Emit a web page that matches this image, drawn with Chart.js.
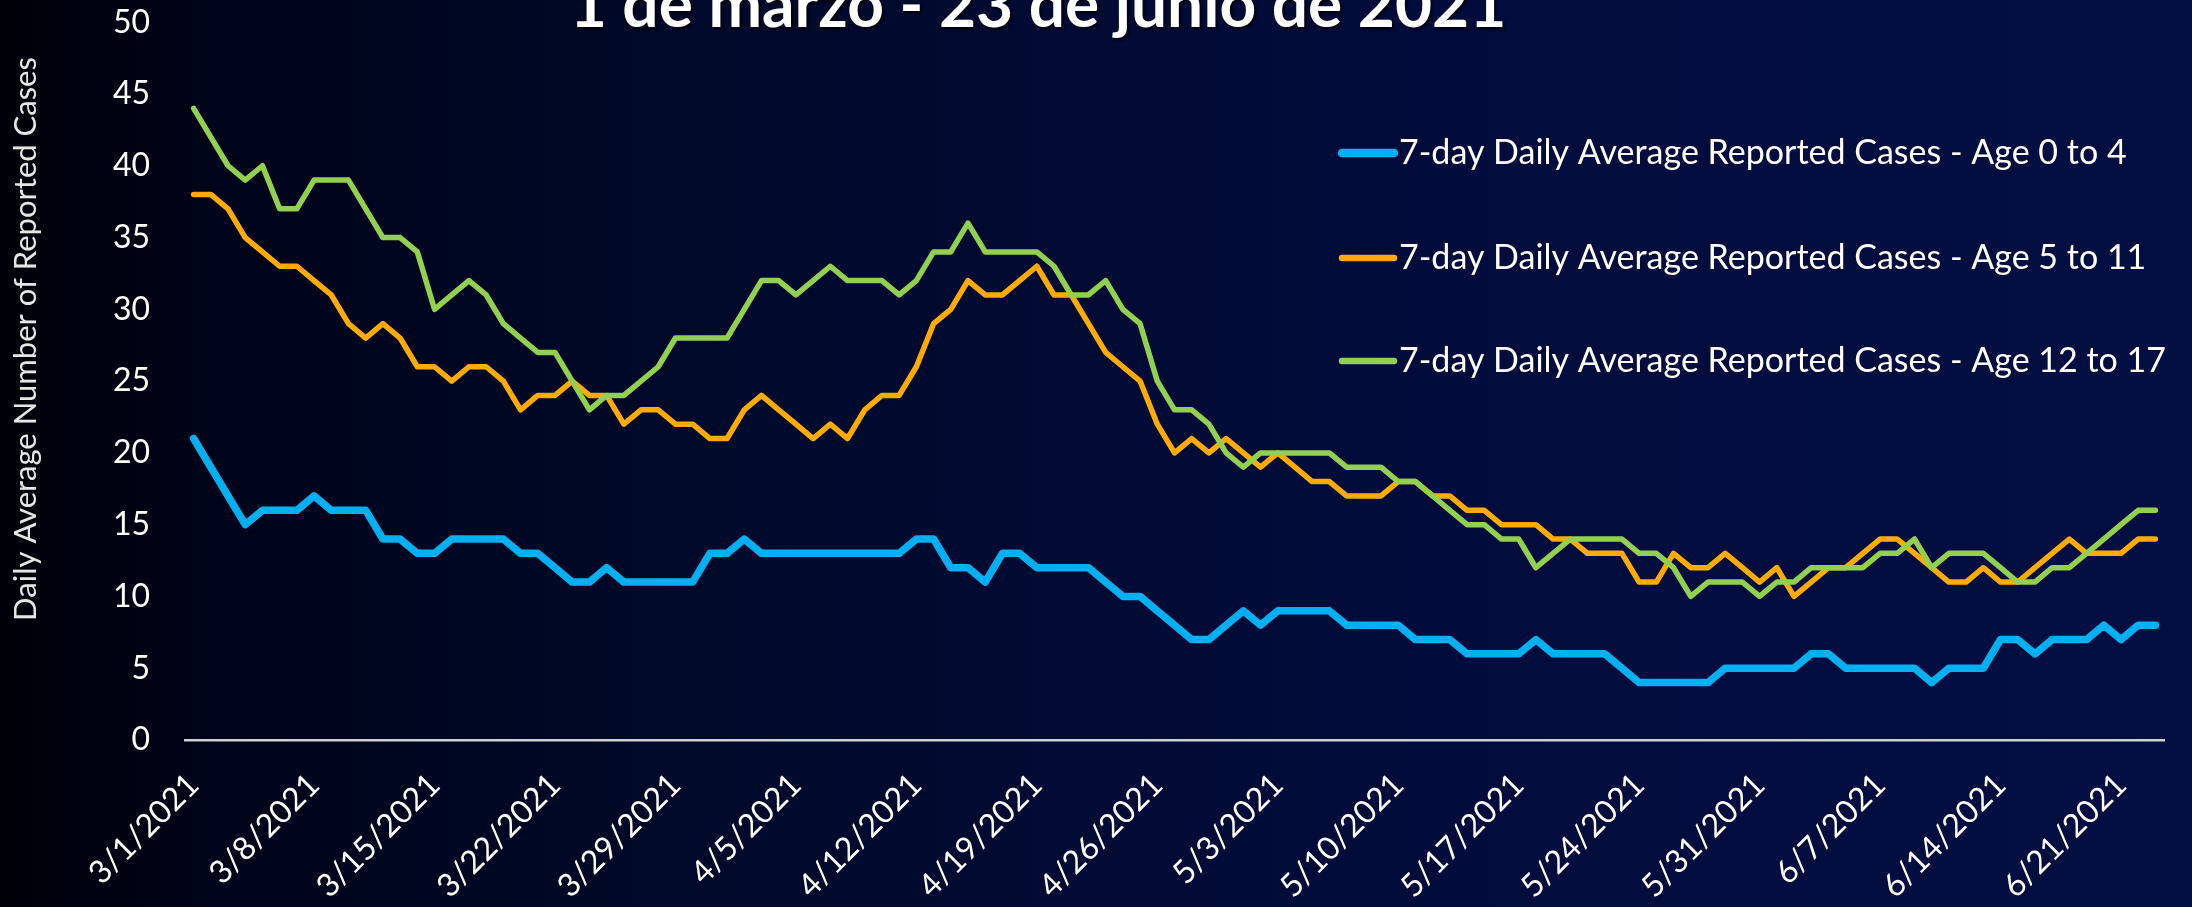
<!DOCTYPE html>
<html>
<head>
<meta charset="utf-8">
<script src="https://cdn.jsdelivr.net/npm/chart.js@4.4.1/dist/chart.umd.min.js"></script>
<style>
  html, body { margin: 0; padding: 0; overflow: hidden; }
  body {
    width: 2192px; height: 907px;
    background: linear-gradient(to right, #000008 0%, #00041a 10%, #000a2c 35%, #020c3c 65%, #030e42 100%);
  }
  #wrap { position: relative; width: 2192px; height: 907px; }
</style>
</head>
<body>
<div id="wrap"><canvas id="chart"></canvas></div>
<script>
const dates = [
  "3/1/2021","3/2/2021","3/3/2021","3/4/2021","3/5/2021","3/6/2021","3/7/2021","3/8/2021","3/9/2021","3/10/2021",
  "3/11/2021","3/12/2021","3/13/2021","3/14/2021","3/15/2021","3/16/2021","3/17/2021","3/18/2021","3/19/2021","3/20/2021",
  "3/21/2021","3/22/2021","3/23/2021","3/24/2021","3/25/2021","3/26/2021","3/27/2021","3/28/2021","3/29/2021","3/30/2021",
  "3/31/2021","4/1/2021","4/2/2021","4/3/2021","4/4/2021","4/5/2021","4/6/2021","4/7/2021","4/8/2021","4/9/2021",
  "4/10/2021","4/11/2021","4/12/2021","4/13/2021","4/14/2021","4/15/2021","4/16/2021","4/17/2021","4/18/2021","4/19/2021",
  "4/20/2021","4/21/2021","4/22/2021","4/23/2021","4/24/2021","4/25/2021","4/26/2021","4/27/2021","4/28/2021","4/29/2021",
  "4/30/2021","5/1/2021","5/2/2021","5/3/2021","5/4/2021","5/5/2021","5/6/2021","5/7/2021","5/8/2021","5/9/2021",
  "5/10/2021","5/11/2021","5/12/2021","5/13/2021","5/14/2021","5/15/2021","5/16/2021","5/17/2021","5/18/2021","5/19/2021",
  "5/20/2021","5/21/2021","5/22/2021","5/23/2021","5/24/2021","5/25/2021","5/26/2021","5/27/2021","5/28/2021","5/29/2021",
  "5/30/2021","5/31/2021","6/1/2021","6/2/2021","6/3/2021","6/4/2021","6/5/2021","6/6/2021","6/7/2021","6/8/2021",
  "6/9/2021","6/10/2021","6/11/2021","6/12/2021","6/13/2021","6/14/2021","6/15/2021","6/16/2021","6/17/2021","6/18/2021",
  "6/19/2021","6/20/2021","6/21/2021","6/22/2021","6/23/2021"
];

const shownTicks = [
  "3/1/2021","3/8/2021","3/15/2021","3/22/2021","3/29/2021","4/5/2021","4/12/2021","4/19/2021","4/26/2021",
  "5/3/2021","5/10/2021","5/17/2021","5/24/2021","5/31/2021","6/7/2021","6/14/2021","6/21/2021"
];

const age0to4 = [
  21,19,17,15,16,16,16,17,16,16,
  16,14,14,13,13,14,14,14,14,13,
  13,12,11,11,12,11,11,11,11,11,
  13,13,14,13,13,13,13,13,13,13,
  13,13,14,14,12,12,11,13,13,12,
  12,12,12,11,10,10,9,8,7,7,
  8,9,8,9,9,9,9,8,8,8,
  8,7,7,7,6,6,6,6,7,6,
  6,6,6,5,4,4,4,4,4,5,
  5,5,5,5,6,6,5,5,5,5,
  5,4,5,5,5,7,7,6,7,7,
  7,8,7,8,8
];

const age5to11 = [
  38,38,37,35,34,33,33,32,31,29,
  28,29,28,26,26,25,26,26,25,23,
  24,24,25,24,24,22,23,23,22,22,
  21,21,23,24,23,22,21,22,21,23,
  24,24,26,29,30,32,31,31,32,33,
  31,31,29,27,26,25,22,20,21,20,
  21,20,19,20,19,18,18,17,17,17,
  18,18,17,17,16,16,15,15,15,14,
  14,13,13,13,11,11,13,12,12,13,
  12,11,12,10,11,12,12,13,14,14,
  13,12,11,11,12,11,11,12,13,14,
  13,13,13,14,14
];

const age12to17 = [
  44,42,40,39,40,37,37,39,39,39,
  37,35,35,34,30,31,32,31,29,28,
  27,27,25,23,24,24,25,26,28,28,
  28,28,30,32,32,31,32,33,32,32,
  32,31,32,34,34,36,34,34,34,34,
  33,31,31,32,30,29,25,23,23,22,
  20,19,20,20,20,20,20,19,19,19,
  18,18,17,16,15,15,14,14,12,13,
  14,14,14,14,13,13,12,10,11,11,
  11,10,11,11,12,12,12,12,13,13,
  14,12,13,13,13,12,11,11,12,12,
  13,14,15,16,16
];

const seriesNames = [
  "7-day Daily Average Reported Cases - Age 0 to 4",
  "7-day Daily Average Reported Cases - Age 5 to 11",
  "7-day Daily Average Reported Cases - Age 12 to 17"
];

const titleText = "1 de marzo - 23 de junio de 2021";
const yTitleText = "Daily Average Number of Reported Cases";

const FONT = "Lato, 'Open Sans', sans-serif";

// title, y axis title and legend drawn on the canvas
const decorations = {
  id: "decorations",
  afterDatasetsDraw(chart) {
    const ctx = chart.ctx;
    ctx.save();

    // title (partly cut off at the top, like the slide)
    ctx.font = "bold 64px " + FONT;
    ctx.fillStyle = "#ffffff";
    ctx.textAlign = "center";
    ctx.textBaseline = "alphabetic";
    ctx.shadowColor = "rgba(0,0,0,0.8)";
    ctx.shadowOffsetX = 2;
    ctx.shadowOffsetY = 2;
    ctx.shadowBlur = 3;
    ctx.fillText(titleText, 1038, 27);
    ctx.shadowColor = "transparent";

    // y axis title
    ctx.save();
    ctx.translate(26, 339);
    ctx.rotate(-Math.PI / 2);
    ctx.font = "31px " + FONT;
    ctx.fillStyle = "#e6e6e6";
    ctx.textAlign = "center";
    ctx.textBaseline = "middle";
    ctx.fillText(yTitleText, 0, 0);
    ctx.restore();

    // legend
    const rows = [153, 258, 361];
    chart.data.datasets.forEach((ds, i) => {
      const y = rows[i];
      ctx.strokeStyle = ds.borderColor;
      ctx.lineWidth = ds.borderWidth + 1;
      ctx.lineCap = "round";
      ctx.beginPath();
      ctx.moveTo(1342, y);
      ctx.lineTo(1394, y);
      ctx.stroke();
      ctx.font = "34px " + FONT;
      ctx.fillStyle = "#ffffff";
      ctx.textAlign = "left";
      ctx.textBaseline = "middle";
      ctx.fillText(ds.label, 1399, y);
    });

    ctx.restore();
  }
};

new Chart(document.getElementById("chart"), {
  type: "line",
  data: {
    labels: dates,
    datasets: [
      { label: seriesNames[0], data: age0to4, borderColor: "#00B0F0", borderWidth: 7.5, order: 2 },
      { label: seriesNames[1], data: age5to11, borderColor: "#FFAB00", borderWidth: 5.5, order: 1 },
      { label: seriesNames[2], data: age12to17, borderColor: "#92D050", borderWidth: 5.5, order: 0 }
    ]
  },
  options: {
    responsive: true,
    maintainAspectRatio: false,
    devicePixelRatio: 1,
    animation: false,
    elements: {
      point: { radius: 0, hoverRadius: 0 },
      line: { tension: 0, borderJoinStyle: "round", borderCapStyle: "round" }
    },
    layout: { padding: { top: 0, right: 28, left: 0, bottom: 0 } },
    plugins: {
      legend: { display: false },
      tooltip: { enabled: false },
      title: { display: false }
    },
    scales: {
      x: {
        offset: true,
        grid: { display: false, drawTicks: false },
        border: { display: true, color: "#d0d0d0", width: 2.5 },
        ticks: {
          color: "#ffffff",
          font: { family: FONT, size: 32 },
          autoSkip: false,
          minRotation: 45,
          maxRotation: 45,
          padding: 26,
          callback: function (value) {
            const label = this.getLabelForValue(value);
            return shownTicks.includes(label) ? label : null;
          }
        },
        afterFit(scale) { scale.height = 167; }
      },
      y: {
        min: 0,
        max: 50,
        // tick length (not drawn, grid hidden) gives the gap to the labels
        grid: { display: false, drawTicks: true, tickLength: 32 },
        border: { display: false },
        ticks: {
          stepSize: 5,
          color: "#ffffff",
          font: { family: FONT, size: 32 },
          padding: 3
        },
        afterFit(scale) { scale.width = 185; }
      }
    }
  },
  plugins: [decorations]
});
</script>
</body>
</html>
